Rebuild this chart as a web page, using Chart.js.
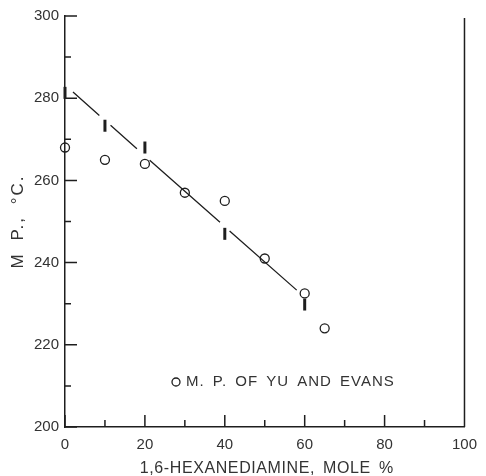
<!DOCTYPE html>
<html>
<head>
<meta charset="utf-8">
<script src="https://cdn.jsdelivr.net/npm/chart.js@4/dist/chart.umd.min.js"></script>
<style>
  body { margin: 0; background: #fff; }
  canvas { display: block; }
</style>
</head>
<body>
<canvas id="mpChart" width="486" height="476"></canvas>
<script>
// melting points of Yu and Evans (circles)
const yuX = [0, 10, 20, 30, 40, 50, 60, 65];
const yuMP = [268, 265, 264, 257, 255, 241, 232.5, 224];

// melting ranges (short vertical bars)
const rangeX = [0, 10, 20, 40, 60];
const rangeMP = [281.3, 273.3, 268, 247, 229.8];

// straight line through the ranges, broken at the bars
const fitX = [2, 8.6, null, 11.4, 18, null, 21.2, 38.8, null, 41.2, 58];
const fitMP = [281.5, 275.8, null, 273.4, 267.7, null, 264.9, 249.8, null, 247.7, 233.3];

const xTicks = [0, 20, 40, 60, 80, 100];
const xMinor = [10, 30, 50, 70, 90];
const yTicks = [200, 220, 240, 260, 280, 300];
const yMinor = [210, 230, 250, 270, 290];

const ink = "#1e1e1e";
const textColor = "#333";
const fontFamily = "'Liberation Sans', Arial, sans-serif";

function pairs(xs, ys) {
    return xs.map((x, i) => ({ x: x === null ? xs[i - 1] + 0.1 : x, y: ys[i] }));
}

// inward ticks, right frame line, axis titles and the key
const decorations = {
    id: "decorations",
    afterDraw(chart) {
        const { ctx, chartArea: a, scales } = chart;
        const x = scales.x, y = scales.y;
        ctx.save();
        ctx.strokeStyle = ink;
        ctx.lineWidth = 1.5;
        ctx.beginPath();
        yTicks.forEach(v => { const p = y.getPixelForValue(v); ctx.moveTo(a.left, p); ctx.lineTo(a.left + 12, p); });
        yMinor.forEach(v => { const p = y.getPixelForValue(v); ctx.moveTo(a.left, p); ctx.lineTo(a.left + 6, p); });
        xTicks.forEach(v => { const p = x.getPixelForValue(v); ctx.moveTo(p, a.bottom); ctx.lineTo(p, a.bottom - 12); });
        xMinor.forEach(v => { const p = x.getPixelForValue(v); ctx.moveTo(p, a.bottom); ctx.lineTo(p, a.bottom - 7); });
        ctx.moveTo(a.right, a.top + 2);
        ctx.lineTo(a.right, a.bottom);
        ctx.stroke();

        ctx.fillStyle = textColor;
        ctx.textBaseline = "middle";
        ctx.textAlign = "center";
        ctx.font = "16px " + fontFamily;
        ctx.letterSpacing = "0.6px";
        ctx.wordSpacing = "3px";
        ctx.fillText("1,6-HEXANEDIAMINE, MOLE %", (a.left + a.right) / 2 + 2, 469);

        ctx.save();
        ctx.translate(18, (a.top + a.bottom) / 2);
        ctx.rotate(-Math.PI / 2);
        ctx.font = "17px " + fontFamily;
        ctx.letterSpacing = "2px";
        ctx.wordSpacing = "5px";
        ctx.fillText("M P., °C.", 0, 0);
        ctx.restore();

        // key
        ctx.lineWidth = 1.3;
        ctx.beginPath();
        ctx.arc(176, 382, 4, 0, Math.PI * 2);
        ctx.stroke();
        ctx.textAlign = "left";
        ctx.font = "15px " + fontFamily;
        ctx.letterSpacing = "1px";
        ctx.wordSpacing = "3px";
        ctx.fillText("M. P. OF YU AND EVANS", 186, 382);
        ctx.restore();
    }
};

new Chart(document.getElementById("mpChart"), {
    type: "scatter",
    data: {
        datasets: [
            {
                type: "line",
                data: pairs(fitX, fitMP),
                borderColor: ink,
                borderWidth: 1.3,
                pointRadius: 0,
                spanGaps: false,
                clip: false,
            },
            {
                data: pairs(rangeX, rangeMP),
                pointStyle: "line",
                rotation: 90,
                pointRadius: 6,
                borderWidth: 3,
                borderColor: ink,
                clip: false,
            },
            {
                data: pairs(yuX, yuMP),
                pointStyle: "circle",
                pointRadius: 4.5,
                borderWidth: 1.3,
                borderColor: ink,
                backgroundColor: "rgba(0,0,0,0)",
                clip: false,
            },
        ],
    },
    options: {
        responsive: false,
        animation: false,
        layout: { padding: { top: 16, right: 13, left: 0, bottom: 0 } },
        plugins: { legend: { display: false }, tooltip: { enabled: false } },
        scales: {
            x: {
                type: "linear",
                min: 0,
                max: 100,
                afterFit(scale) { scale.height = 49; },
                afterBuildTicks(scale) { scale.ticks = xTicks.map(v => ({ value: v })); },
                grid: { display: false, drawTicks: false },
                border: { color: ink, width: 1.5 },
                ticks: { color: textColor, padding: 9, font: { family: fontFamily, size: 15 } },
            },
            y: {
                min: 200,
                max: 300,
                afterFit(scale) { scale.width = 65; },
                afterBuildTicks(scale) { scale.ticks = yTicks.map(v => ({ value: v })); },
                grid: { display: false, drawTicks: false },
                border: { color: ink, width: 1.5 },
                ticks: { color: textColor, padding: 6, font: { family: fontFamily, size: 15 } },
            },
        },
    },
    plugins: [decorations],
});
</script>
</body>
</html>
